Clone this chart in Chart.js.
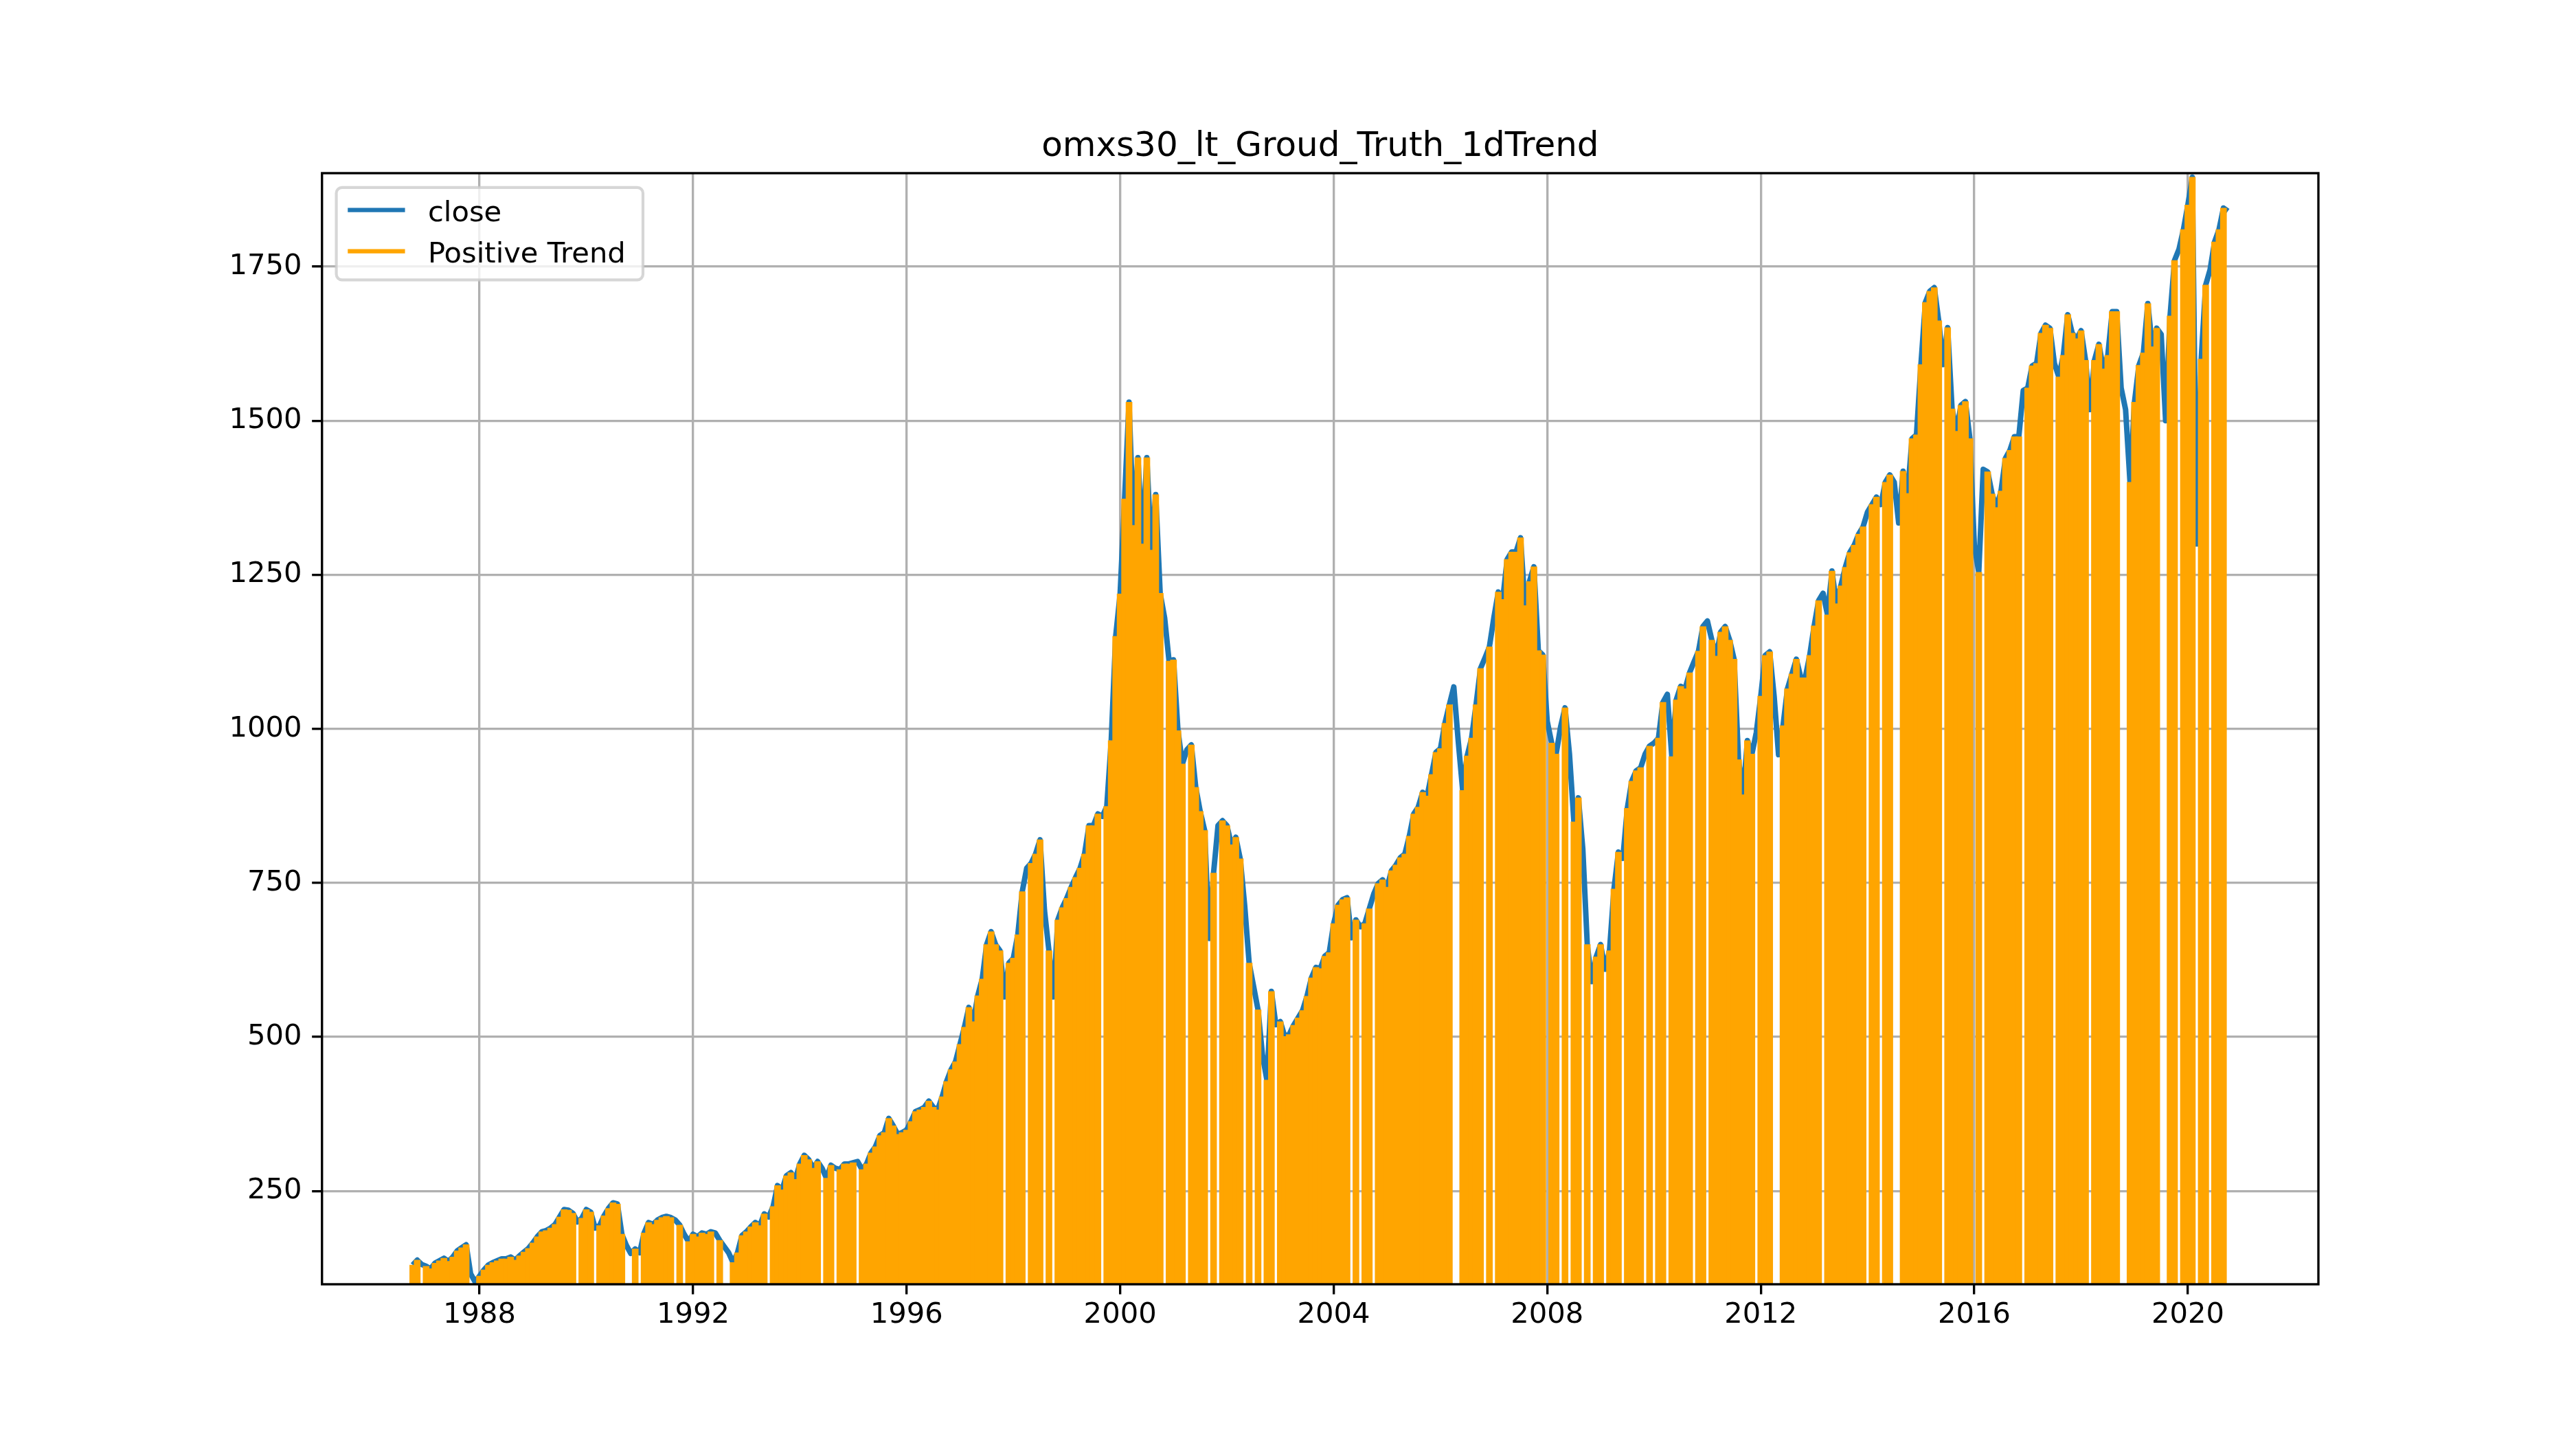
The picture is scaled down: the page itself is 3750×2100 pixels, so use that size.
<!DOCTYPE html>
<html>
<head>
<meta charset="utf-8">
<title>omxs30_lt_Groud_Truth_1dTrend</title>
<script src="https://cdn.jsdelivr.net/npm/chart.js@4.4.1/dist/chart.umd.min.js"></script>
<style>
  html, body { margin: 0; padding: 0; background: #fff; }
  #chart { display: block; }
</style>
</head>
<body>
<canvas id="chart" width="3750" height="2100" style="width:3750px;height:2100px"></canvas>
<script>
// ---------------- Data ----------------

// one close value per month, first one is Oct 1986
const startYear = 1986;
const startMonth = 10;

const closeValues = [
  130, 138, 131,                                                   // 1986
  128, 124, 133, 137, 141, 136, 143, 153, 158, 163, 116, 103,      // 1987
  112, 122, 130, 134, 137, 140, 140, 143, 138, 145, 151, 157,      // 1988
  166, 176, 184, 186, 190, 196, 208, 220, 219, 214, 200, 206,      // 1989
  220, 216, 190, 194, 210, 222, 231, 229, 180, 162, 149, 156,      // 1990
  150, 182, 199, 196, 203, 207, 209, 207, 203, 195, 180, 168,      // 1991
  180, 176, 182, 180, 184, 182, 170, 160, 150, 134, 150, 178,      // 1992
  184, 192, 199, 194, 213, 208, 225, 259, 252, 275, 280, 269,      // 1993
  294, 308, 301, 287, 298, 287, 271, 292, 287, 285, 294, 294,      // 1994
  296, 298, 285, 294, 312, 322, 340, 345, 368, 356, 342, 345,      // 1995
  349, 363, 379, 382, 386, 396, 386, 382, 403, 428, 447, 460,      // 1996
  488, 516, 548, 525, 567, 594, 650, 671, 650, 640, 565, 620,      // 1997
  628, 666, 736, 774, 782, 797, 820, 705, 640, 565, 690, 710,      // 1998
  725, 743, 759, 774, 797, 843, 843, 862, 858, 874, 981, 1150,     // 1999
  1219, 1373, 1530, 1330, 1440, 1300, 1440, 1290, 1380, 1220, 1180, 1110, // 2000
  1112, 997, 943, 966, 974, 905, 866, 835, 660, 766, 843, 851,     // 2001
  843, 812, 824, 789, 713, 620, 582, 544, 470, 430, 574, 520,      // 2002
  525, 501, 504, 519, 531, 543, 566, 596, 613, 611, 631, 637,      // 2003
  684, 714, 723, 726, 661, 690, 679, 684, 708, 732, 749, 755,      // 2004
  743, 770, 779, 791, 797, 826, 862, 873, 897, 891, 926, 962,      // 2005
  968, 1009, 1039, 1068, 980, 900, 956, 985, 1039, 1098, 1115, 1133, // 2006
  1180, 1222, 1210, 1275, 1287, 1287, 1310, 1200, 1239, 1263, 1127, 1120, // 2007
  1012, 977, 959, 1003, 1034, 959, 849, 888, 805, 650, 590, 630,   // 2008
  650, 610, 640, 740, 800, 790, 871, 915, 932, 937, 959, 972,      // 2009
  977, 985, 1043, 1056, 955, 1047, 1069, 1065, 1091, 1109, 1126, 1166, // 2010
  1175, 1144, 1118, 1157, 1166, 1144, 1113, 950, 893, 981, 959, 994, // 2011
  1053, 1119, 1125, 1053, 958, 1005, 1065, 1089, 1113, 1083, 1083, 1119, // 2012
  1167, 1208, 1220, 1185, 1256, 1203, 1232, 1262, 1286, 1298, 1316, 1328, // 2013
  1352, 1364, 1376, 1364, 1400, 1412, 1400, 1334, 1418, 1382, 1471, 1477, // 2014
  1591, 1692, 1710, 1716, 1662, 1591, 1651, 1519, 1483, 1525, 1531, 1471, // 2015
  1298, 1254, 1421, 1417, 1381, 1359, 1386, 1439, 1452, 1474, 1474, 1549, // 2016
  1553, 1589, 1593, 1642, 1655, 1650, 1593, 1571, 1606, 1672, 1642, 1633, // 2017
  1646, 1598, 1518, 1598, 1624, 1584, 1606, 1677, 1677, 1553, 1518, 1400, // 2018
  1530, 1590, 1610, 1690, 1620, 1650, 1640, 1500, 1670, 1760, 1778, 1810, // 2019
  1850, 1895, 1300, 1600, 1720, 1745, 1790, 1810, 1845, 1840              // 2020
];

// 1 = month flagged as positive trend (orange), 0 = not
const positiveTrend = [
  1, 1, 0,
  1, 1, 1, 1, 1, 1, 1, 1, 1, 1, 0, 0,
  1, 1, 1, 1, 1, 1, 1, 1, 1, 1, 1, 1,
  1, 1, 1, 1, 1, 1, 1, 1, 1, 1, 0, 1,
  1, 1, 0, 1, 1, 1, 1, 1, 1, 0, 0, 1,
  0, 1, 1, 1, 1, 1, 1, 1, 0, 1, 0, 1,
  1, 1, 1, 1, 1, 0, 1, 0, 0, 1, 1, 1,
  1, 1, 1, 1, 1, 0, 1, 1, 1, 1, 1, 1,
  1, 1, 1, 1, 1, 0, 1, 1, 0, 1, 1, 1,
  1, 0, 1, 1, 1, 1, 1, 1, 1, 1, 1, 1,
  1, 1, 1, 1, 1, 1, 1, 1, 1, 1, 1, 1,
  1, 1, 1, 1, 1, 1, 1, 1, 1, 1, 0, 1,
  1, 1, 1, 0, 1, 1, 1, 0, 1, 0, 1, 1,
  1, 1, 1, 1, 1, 1, 1, 1, 0, 1, 1, 1,
  1, 1, 1, 1, 1, 1, 1, 1, 1, 1, 0, 1,
  1, 1, 1, 0, 1, 1, 1, 1, 0, 1, 0, 1,
  1, 1, 1, 1, 0, 1, 0, 1, 0, 1, 1, 0,
  1, 1, 1, 1, 1, 1, 1, 1, 1, 1, 1, 1,
  1, 1, 1, 1, 0, 1, 0, 1, 1, 0, 1, 1,
  1, 1, 1, 1, 1, 1, 1, 1, 1, 1, 1, 1,
  1, 1, 1, 0, 0, 1, 1, 1, 1, 1, 0, 1,
  0, 1, 1, 1, 1, 1, 1, 1, 1, 1, 1, 1,
  0, 1, 1, 0, 1, 0, 1, 1, 0, 1, 0, 1,
  1, 0, 1, 1, 1, 0, 1, 1, 1, 1, 0, 1,
  0, 1, 1, 0, 1, 1, 1, 1, 1, 0, 1, 1,
  0, 1, 1, 1, 1, 1, 1, 1, 1, 1, 1, 0,
  1, 1, 1, 0, 0, 1, 1, 1, 1, 1, 1, 1,
  1, 1, 0, 1, 1, 1, 1, 1, 1, 1, 1, 1,
  0, 1, 1, 0, 1, 1, 0, 0, 1, 1, 1, 1,
  1, 1, 1, 1, 1, 0, 1, 1, 1, 1, 1, 1,
  0, 1, 0, 1, 1, 1, 1, 1, 1, 1, 1, 0,
  1, 1, 1, 1, 1, 1, 0, 1, 1, 1, 1, 1,
  1, 1, 0, 1, 1, 1, 1, 1, 1, 0, 0, 1,
  1, 1, 1, 1, 1, 1, 0, 0, 1, 1, 0, 1,
  1, 1, 0, 1, 1, 0, 1, 1, 1, 0
];

const xTicks = [1988, 1992, 1996, 2000, 2004, 2008, 2012, 2016, 2020];
const yTicks = [250, 500, 750, 1000, 1250, 1500, 1750];

// month index -> decimal year on the x axis
const monthX = closeValues.map((_, i) => startYear + (startMonth - 1 + i) / 12);
const closePoints = closeValues.map((v, i) => ({ x: monthX[i], y: v }));
const trendPoints = closeValues.map((v, i) => ({ x: monthX[i], y: positiveTrend[i] ? v : null }));

// ---------------- Styling (matplotlib at 300 dpi) ----------------

const PT = 300 / 72;
const FONT = 'DejaVu Sans';
const BLUE = '#1f77b4';
const ORANGE = '#ffa500';

// spines, legend and title drawn like matplotlib does
const framePlugin = {
  id: 'mplFrame',
  afterDraw(chart) {
    const ctx = chart.ctx;
    const a = chart.chartArea;
    ctx.save();

    // spines
    ctx.strokeStyle = '#000';
    ctx.lineWidth = 0.8 * PT;
    ctx.strokeRect(a.left, a.top, a.right - a.left, a.bottom - a.top);

    // legend box
    const bx = a.left + 0.5 * 10 * PT;
    const by = a.top + 0.5 * 10 * PT;
    const bw = 936 - bx;
    const bh = 407.4 - by;
    ctx.globalAlpha = 0.8;
    ctx.beginPath();
    ctx.roundRect(bx, by, bw, bh, 0.2 * 10 * PT);
    ctx.fillStyle = '#fff';
    ctx.fill();
    ctx.strokeStyle = '#cccccc';
    ctx.lineWidth = 1.0 * PT;
    ctx.stroke();
    ctx.globalAlpha = 1;

    const items = [
      { label: 'close', color: BLUE, base: 321.7 },
      { label: 'Positive Trend', color: ORANGE, base: 381.7 }
    ];
    const hx = bx + 0.4 * 10 * PT;
    const hlen = 2.0 * 10 * PT;
    ctx.font = (10 * PT) + 'px "' + FONT + '"';
    ctx.textAlign = 'left';
    ctx.textBaseline = 'alphabetic';
    items.forEach(it => {
      ctx.strokeStyle = it.color;
      ctx.lineWidth = 1.5 * PT;
      ctx.beginPath();
      ctx.moveTo(hx, it.base - 16);
      ctx.lineTo(hx + hlen, it.base - 16);
      ctx.stroke();
      ctx.fillStyle = '#000';
      ctx.fillText(it.label, hx + hlen + 0.8 * 10 * PT, it.base);
    });

    // title
    ctx.font = (12 * PT) + 'px "' + FONT + '"';
    ctx.textAlign = 'center';
    ctx.fillText('omxs30_lt_Groud_Truth_1dTrend', (a.left + a.right) / 2, a.top - 6 * PT);
    ctx.restore();
  }
};

const axisGrid = {
  color: '#b0b0b0',
  lineWidth: 0.8 * PT,
  offset: false,
  drawTicks: true,
  tickLength: 3.5 * PT,
  tickColor: '#000',
  tickWidth: 0.8 * PT
};

// ---------------- Chart ----------------

const ctx = document.getElementById('chart').getContext('2d');
new Chart(ctx, {
  type: 'line',
  data: {
    datasets: [
      {
        type: 'line',
        label: 'close',
        data: closePoints,
        borderColor: BLUE,
        borderWidth: 8,
        borderJoinStyle: 'round',
        pointRadius: 0,
        fill: false,
        tension: 0,
        order: 1
      },
      {
        type: 'bar',
        label: 'Positive Trend',
        data: trendPoints,
        backgroundColor: ORANGE,
        borderWidth: 0,
        barThickness: 9,
        grouped: false,
        order: 0
      }
    ]
  },
  options: {
    responsive: false,
    animation: false,
    devicePixelRatio: 1,
    events: [],
    layout: { padding: { left: 0, top: 252, right: 375, bottom: 0 } },
    plugins: {
      legend: { display: false },
      title: { display: false },
      tooltip: { enabled: false }
    },
    scales: {
      x: {
        type: 'linear',
        min: 1985.05,
        max: 2022.445,
        offset: false,
        afterFit: s => { s.height = 231; },
        afterBuildTicks: s => { s.ticks = xTicks.map(v => ({ value: v })); },
        grid: axisGrid,
        border: { display: false },
        ticks: {
          font: { family: FONT, size: 10 * PT },
          color: '#000',
          padding: 6,
          maxRotation: 0,
          autoSkip: false,
          callback: v => String(v)
        }
      },
      y: {
        type: 'linear',
        min: 98.8,
        max: 1901.6,
        afterFit: s => { s.width = 468.75; },
        afterBuildTicks: s => { s.ticks = yTicks.map(v => ({ value: v })); },
        grid: axisGrid,
        border: { display: false },
        ticks: {
          font: { family: FONT, size: 10 * PT },
          color: '#000',
          padding: 3.5 * PT,
          autoSkip: false,
          callback: v => String(v)
        }
      }
    }
  },
  plugins: [framePlugin]
});
</script>
</body>
</html>
